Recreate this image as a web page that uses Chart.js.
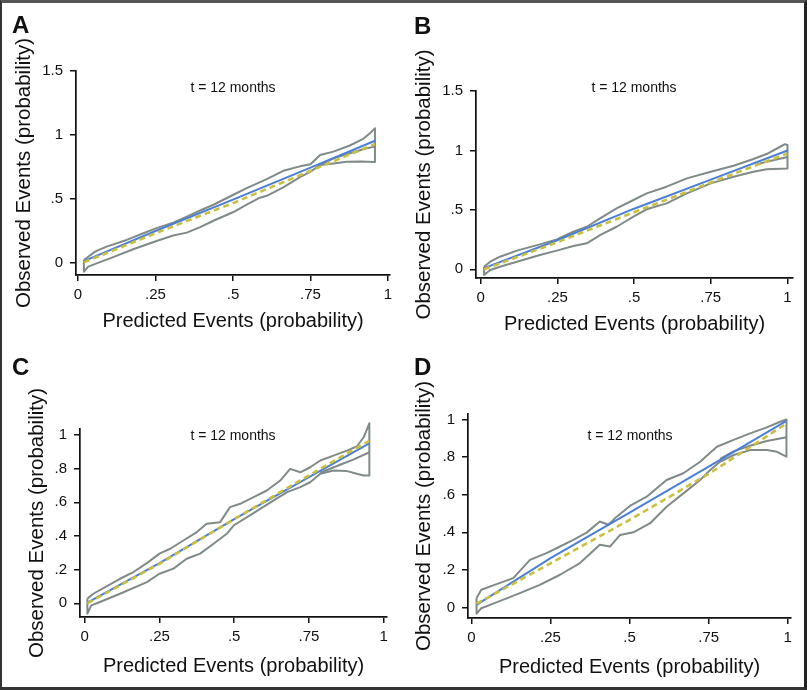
<!DOCTYPE html>
<html><head><meta charset="utf-8">
<script src="https://cdn.jsdelivr.net/npm/chart.js@4.4.1/dist/chart.umd.min.js"></script>
<style>
html,body{margin:0;padding:0;background:#fff;}
#wrap{position:relative;width:807px;height:690px;overflow:hidden;background:#fff;font-family:'Liberation Sans',Arial,Helvetica,sans-serif;}
canvas{position:absolute;}
.frame{position:absolute;left:0;top:0;width:807px;height:690px;box-sizing:border-box;border-left:2px solid #333;border-top:3px solid #555;border-right:3px solid #222;border-bottom:3px solid #333;pointer-events:none;}
.letter{position:absolute;font-weight:bold;font-size:24px;line-height:24px;color:#111;}
.tlab{position:absolute;width:200px;text-align:center;font-size:14px;line-height:14px;color:#111;}
</style></head>
<body>
<div id="wrap">
<canvas id="cA"></canvas><canvas id="cB"></canvas><canvas id="cC"></canvas><canvas id="cD"></canvas>
<div class="letter" id="LA" style="left:12px;top:13px"></div>
<div class="letter" id="LB" style="left:414px;top:14px"></div>
<div class="letter" id="LC" style="left:12px;top:355px"></div>
<div class="letter" id="LD" style="left:414px;top:355px"></div>
<div class="tlab" id="TA" style="left:133px;top:80px"></div>
<div class="tlab" id="TB" style="left:534px;top:80px"></div>
<div class="tlab" id="TC" style="left:133px;top:428px"></div>
<div class="tlab" id="TD" style="left:530px;top:428px"></div>
<div class="frame"></div>
</div>
<script>
// ---- text / ticks ----
const panelLetters = ['A', 'B', 'C', 'D'];
const timeLabel = 't = 12 months';
const xTitle = 'Predicted Events (probability)';
const yTitle = 'Observed Events (probability)';
const xTickValues = [0, 0.25, 0.5, 0.75, 1];
const xTickLabels = ['0', '.25', '.5', '.75', '1'];
const yTickValuesAB = [0, 0.5, 1, 1.5];
const yTickLabelsAB = ['0', '.5', '1', '1.5'];
const yTickValuesCD = [0, 0.2, 0.4, 0.6, 0.8, 1];
const yTickLabelsCD = ['0', '.2', '.4', '.6', '.8', '1'];

// ---- Panel A ----
const aUpperX = [0.019, 0.033, 0.055, 0.092, 0.157, 0.211, 0.251, 0.307, 0.351, 0.394, 0.437, 0.503, 0.544, 0.609, 0.662, 0.716, 0.75, 0.781, 0.824, 0.877, 0.92, 0.942, 0.958];
const aUpperY = [0.023, 0.049, 0.089, 0.128, 0.18, 0.232, 0.27, 0.315, 0.362, 0.41, 0.455, 0.535, 0.585, 0.655, 0.72, 0.755, 0.772, 0.844, 0.87, 0.918, 0.97, 1.013, 1.052];
const aLowerX = [0.019, 0.033, 0.06, 0.103, 0.178, 0.251, 0.307, 0.351, 0.394, 0.437, 0.503, 0.544, 0.587, 0.609, 0.662, 0.716, 0.75, 0.781, 0.824, 0.867, 0.91, 0.958];
const aLowerY = [-0.068, -0.029, -0.003, 0.036, 0.107, 0.17, 0.215, 0.237, 0.28, 0.33, 0.4, 0.455, 0.51, 0.525, 0.59, 0.67, 0.713, 0.766, 0.778, 0.79, 0.792, 0.788];
const aMidX = [0.781, 0.824, 0.877, 0.931, 0.958];
const aMidY = [0.766, 0.818, 0.857, 0.896, 0.909];
const aBlueX = [0.019, 0.25, 0.5, 0.75, 0.958];
const aBlueY = [0.015, 0.25, 0.495, 0.745, 0.955];
const aYellowX = [0.019, 0.25, 0.5, 0.75, 0.958];
const aYellowY = [0.005, 0.232, 0.468, 0.72, 0.93];

// ---- Panel B ----
const bUpperX = [0.011, 0.031, 0.063, 0.118, 0.193, 0.248, 0.302, 0.346, 0.389, 0.443, 0.498, 0.541, 0.606, 0.672, 0.75, 0.824, 0.889, 0.932, 0.976, 0.992, 1.0];
const bUpperY = [0.022, 0.064, 0.106, 0.157, 0.21, 0.252, 0.316, 0.358, 0.429, 0.513, 0.583, 0.639, 0.695, 0.765, 0.821, 0.871, 0.928, 0.97, 1.031, 1.053, 1.045];
const bLowerX = [0.011, 0.031, 0.063, 0.118, 0.193, 0.248, 0.302, 0.346, 0.389, 0.443, 0.498, 0.541, 0.606, 0.672, 0.75, 0.824, 0.889, 0.932, 1.0];
const bLowerY = [-0.048, -0.006, 0.022, 0.064, 0.12, 0.157, 0.196, 0.219, 0.288, 0.358, 0.443, 0.505, 0.555, 0.639, 0.723, 0.779, 0.821, 0.841, 0.849];
const bMidX = [0.9, 0.95, 1.0];
const bMidY = [0.885, 0.915, 0.945];
const bBlueX = [0.011, 0.25, 0.5, 0.75, 1.0];
const bBlueY = [0.01, 0.245, 0.51, 0.755, 1.0];
const bYellowX = [0.011, 0.25, 0.5, 0.75, 1.0];
const bYellowY = [0.0, 0.228, 0.48, 0.73, 0.975];

// ---- Panel C ----
const cUpperX = [0.009, 0.029, 0.073, 0.118, 0.163, 0.208, 0.25, 0.286, 0.33, 0.375, 0.408, 0.453, 0.486, 0.52, 0.565, 0.609, 0.654, 0.687, 0.721, 0.754, 0.788, 0.832, 0.877, 0.91, 0.933, 0.952];
const cUpperY = [0.028, 0.057, 0.101, 0.146, 0.186, 0.239, 0.295, 0.324, 0.373, 0.423, 0.472, 0.482, 0.571, 0.591, 0.63, 0.67, 0.729, 0.798, 0.778, 0.808, 0.848, 0.877, 0.907, 0.931, 0.986, 1.069];
const cLowerX = [0.009, 0.022, 0.051, 0.118, 0.208, 0.25, 0.297, 0.341, 0.386, 0.431, 0.475, 0.498, 0.543, 0.587, 0.632, 0.677, 0.721, 0.754, 0.788, 0.832, 0.877, 0.91, 0.933, 0.952];
const cLowerY = [-0.061, -0.012, 0.008, 0.057, 0.126, 0.176, 0.206, 0.265, 0.295, 0.354, 0.413, 0.462, 0.512, 0.561, 0.611, 0.66, 0.69, 0.719, 0.769, 0.789, 0.785, 0.769, 0.759, 0.759];
const cMidX = [0.788, 0.85, 0.9, 0.952];
const cMidY = [0.775, 0.82, 0.855, 0.897];
const cBlueX = [0.009, 0.25, 0.5, 0.75, 0.952];
const cBlueY = [0.005, 0.239, 0.5, 0.749, 0.95];
const cYellowX = [0.009, 0.25, 0.5, 0.75, 0.952];
const cYellowY = [0.0, 0.235, 0.5, 0.76, 0.965];

// ---- Panel D ----
const dUpperX = [0.016, 0.031, 0.073, 0.132, 0.185, 0.237, 0.269, 0.322, 0.364, 0.406, 0.433, 0.459, 0.501, 0.554, 0.617, 0.67, 0.723, 0.776, 0.829, 0.881, 0.934, 0.976, 0.996];
const dUpperY = [0.05, 0.094, 0.12, 0.156, 0.253, 0.289, 0.315, 0.36, 0.398, 0.457, 0.44, 0.483, 0.54, 0.589, 0.678, 0.714, 0.775, 0.855, 0.891, 0.926, 0.958, 0.988, 1.0];
const dLowerX = [0.016, 0.031, 0.073, 0.153, 0.216, 0.28, 0.343, 0.406, 0.438, 0.47, 0.512, 0.565, 0.617, 0.67, 0.723, 0.755, 0.786, 0.829, 0.881, 0.934, 0.966, 0.996];
const dLowerY = [-0.033, -0.004, 0.023, 0.076, 0.12, 0.174, 0.236, 0.333, 0.324, 0.386, 0.4, 0.448, 0.536, 0.607, 0.678, 0.731, 0.775, 0.811, 0.837, 0.837, 0.828, 0.802];
const dMidX = [0.786, 0.829, 0.881, 0.934, 0.996];
const dMidY = [0.79, 0.83, 0.86, 0.885, 0.905];
const dBlueX = [0.016, 0.25, 0.5, 0.75, 0.996];
const dBlueY = [0.014, 0.262, 0.505, 0.749, 0.993];
const dYellowX = [0.016, 0.25, 0.5, 0.75, 0.996];
const dYellowY = [0.02, 0.235, 0.466, 0.71, 0.978];

// ---- styles ----
const GRAY = '#7f8a89';
const BLUE = '#4a7fd6';
const YELLOW = '#cbbf3e';
const INK = '#111';
Chart.defaults.font.family = "'Liberation Sans', Arial, Helvetica, sans-serif";

const pts = (xs, ys) => xs.map((x, i) => ({x: x, y: ys[i]}));

function makePanel(id, geo, d, yVals, yLabs) {
  const canvas = document.getElementById(id);
  canvas.width = geo.cw; canvas.height = geo.ch;
  canvas.style.left = geo.cl + 'px'; canvas.style.top = geo.ct + 'px';
  canvas.style.width = geo.cw + 'px'; canvas.style.height = geo.ch + 'px';
  const outline = pts(d.ux, d.uy).concat(pts(d.lx, d.ly).reverse());
  outline.push({x: d.ux[0], y: d.uy[0]});
  const grayStyle = {showLine: true, borderColor: GRAY, borderWidth: 2, pointRadius: 0, borderJoinStyle: 'round', clip: false};
  new Chart(canvas, {
    type: 'scatter',
    data: {datasets: [
      {label: 'Observed', data: pts(d.yx, d.yy), showLine: true, borderColor: YELLOW, borderWidth: 2.6, borderDash: [6, 4], pointRadius: 0},
      {label: 'Reference', data: pts(d.bx, d.by), showLine: true, borderColor: BLUE, borderWidth: 2, pointRadius: 0},
      Object.assign({label: 'CI band', data: outline}, grayStyle),
      Object.assign({label: 'CI inner', data: pts(d.mx, d.my)}, grayStyle)
    ]},
    options: {
      responsive: false, animation: false, devicePixelRatio: 1, events: [],
      layout: {padding: {left: 0, top: geo.T - geo.ct, right: geo.cl + geo.cw - geo.R, bottom: 0}},
      plugins: {legend: {display: false}, tooltip: {enabled: false}},
      scales: {
        x: {
          type: 'linear', min: geo.xmin, max: geo.xmax,
          afterBuildTicks: s => { s.ticks = xTickValues.map(v => ({value: v})); },
          afterFit: s => { s.height = geo.ct + geo.ch - geo.B; s.paddingLeft = 0; s.paddingRight = 0; },
          ticks: {callback: v => xTickLabels[xTickValues.indexOf(v)], font: {size: 15}, color: INK, padding: 5, maxRotation: 0, autoSkip: false},
          grid: {display: true, drawOnChartArea: false, drawTicks: true, tickLength: 6, color: INK, lineWidth: 1.5},
          border: {display: true, color: INK, width: 1.7},
          title: {display: true, text: xTitle, font: {size: 20}, color: INK, padding: {top: 0, bottom: geo.xtp}}
        },
        y: {
          type: 'linear', min: geo.ymin, max: geo.ymax,
          afterBuildTicks: s => { s.ticks = yVals.map(v => ({value: v})); },
          afterFit: s => { s.width = geo.L - geo.cl; s.paddingTop = 0; s.paddingBottom = 0; },
          ticks: {callback: v => yLabs[yVals.indexOf(v)], font: {size: 15}, color: INK, padding: 7, autoSkip: false},
          grid: {display: true, drawOnChartArea: false, drawTicks: true, tickLength: 6, color: INK, lineWidth: 1.5},
          border: {display: true, color: INK, width: 1.7},
          title: {display: true, text: yTitle, font: {size: 20.5}, color: INK, padding: {top: geo.ytp, bottom: 0}}
        }
      }
    }
  });
}

makePanel('cA', {cl: 0, ct: 0, cw: 403, ch: 345, L: 76, R: 390, T: 71, B: 275, xmin: -0.0065, xmax: 1.0065, ymin: -0.094, ymax: 1.5, xtp: 12, ytp: 12},
  {ux: aUpperX, uy: aUpperY, lx: aLowerX, ly: aLowerY, mx: aMidX, my: aMidY, bx: aBlueX, by: aBlueY, yx: aYellowX, yy: aYellowY}, yTickValuesAB, yTickLabelsAB);
makePanel('cB', {cl: 403, ct: 0, cw: 404, ch: 345, L: 476, R: 793, T: 91, B: 278, xmin: -0.0153, xmax: 1.018, ymin: -0.073, ymax: 1.5, xtp: 9, ytp: 9},
  {ux: bUpperX, uy: bUpperY, lx: bLowerX, ly: bLowerY, mx: bMidX, my: bMidY, bx: bBlueX, by: bBlueY, yx: bYellowX, yy: bYellowY}, yTickValuesAB, yTickLabelsAB);
makePanel('cC', {cl: 0, ct: 345, cw: 403, ch: 345, L: 80, R: 387, T: 429, B: 617, xmin: -0.0157, xmax: 1.011, ymin: -0.081, ymax: 1.035, xtp: 12, ytp: 25},
  {ux: cUpperX, uy: cUpperY, lx: cLowerX, ly: cLowerY, mx: cMidX, my: cMidY, bx: cBlueX, by: cBlueY, yx: cYellowX, yy: cYellowY}, yTickValuesCD, yTickLabelsCD);
makePanel('cD', {cl: 403, ct: 345, cw: 404, ch: 345, L: 468, R: 791, T: 414, B: 618, xmin: -0.011, xmax: 1.0104, ymin: -0.056, ymax: 1.029, xtp: 11, ytp: 9},
  {ux: dUpperX, uy: dUpperY, lx: dLowerX, ly: dLowerY, mx: dMidX, my: dMidY, bx: dBlueX, by: dBlueY, yx: dYellowX, yy: dYellowY}, yTickValuesCD, yTickLabelsCD);

['A', 'B', 'C', 'D'].forEach((k, i) => {
  document.getElementById('L' + k).textContent = panelLetters[i];
  document.getElementById('T' + k).textContent = timeLabel;
});
</script>
</body></html>
